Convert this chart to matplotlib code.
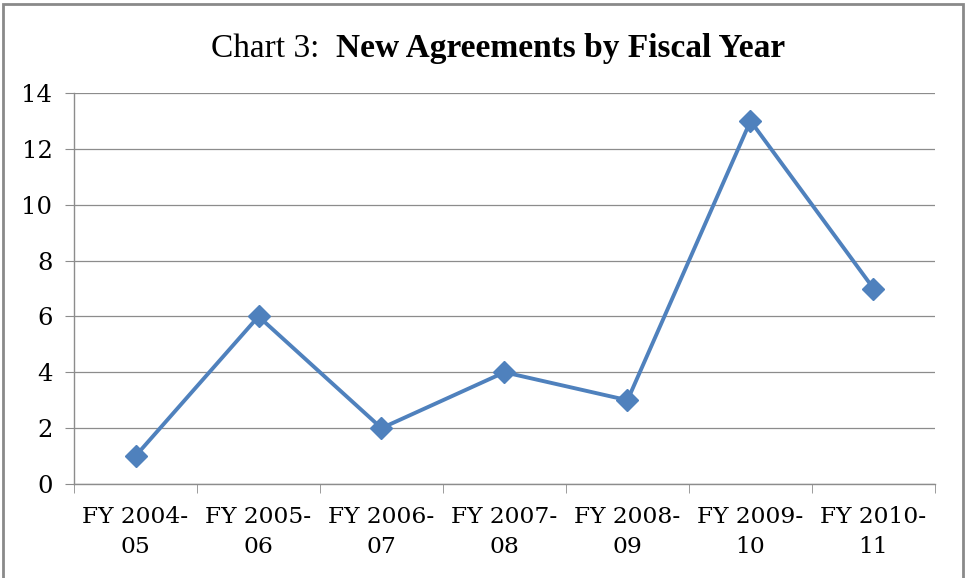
import matplotlib
matplotlib.use("Agg")
import matplotlib.pyplot as plt
from matplotlib.patches import Rectangle
from matplotlib.ticker import MultipleLocator

categories = ["FY 2004-\n05", "FY 2005-\n06", "FY 2006-\n07", "FY 2007-\n08",
              "FY 2008-\n09", "FY 2009-\n10", "FY 2010-\n11"]
agreements = [1, 6, 2, 4, 3, 13, 7]

BLUE = "#4F81BD"
GRID = "#8C8C8C"
plt.rcParams["font.family"] = ["DejaVu Serif"]

fig = plt.figure(figsize=(9.66, 5.78), dpi=100)
ax = fig.add_axes([74 / 966, 1 - 484 / 578, (935 - 74) / 966, (484 - 93) / 578])

x = list(range(len(categories)))
ax.plot(x, agreements, color=BLUE, lw=2.8, marker="D", markersize=11,
        markerfacecolor=BLUE, markeredgecolor=BLUE, zorder=3)

ax.set_xlim(-0.5, len(categories) - 0.5)
ax.set_ylim(0, 14)
ax.yaxis.set_major_locator(MultipleLocator(2))
ax.grid(axis="y", color=GRID, lw=0.9)
ax.set_axisbelow(True)

ax.set_xticks(x)
ax.set_xticklabels(categories, fontsize=16.8, linespacing=1.45)
ax.set_xticks([i - 0.5 for i in range(len(categories) + 1)], minor=True)
ax.tick_params(axis="x", which="major", length=0, pad=16)
ax.tick_params(axis="x", which="minor", length=6.5, color=GRID, direction="out")
ax.tick_params(axis="y", labelsize=17.5, length=6.5, color=GRID, pad=9)

for side in ("top", "right"):
    ax.spines[side].set_visible(False)
for side in ("left", "bottom"):
    ax.spines[side].set_color(GRID)
    ax.spines[side].set_linewidth(1.0)

# two-part title, normal + bold, placed side by side and centred together
tfont = ["Liberation Serif", "DejaVu Serif"]
ty = 1 - 57 / 578
t1 = fig.text(0, ty, "Chart 3:  ", ha="left", va="baseline", fontsize=24, family=tfont)
t2 = fig.text(0, ty, "New Agreements by Fiscal Year", ha="left", va="baseline",
              fontsize=24, fontweight="bold", family=tfont)
fig.canvas.draw()
r = fig.canvas.get_renderer()
w1 = t1.get_window_extent(r).width / fig.bbox.width
w2 = t2.get_window_extent(r).width / fig.bbox.width
x0 = 498 / 966 - (w1 + w2) / 2
t1.set_x(x0)
t2.set_x(x0 + w1)

fig.patches.append(Rectangle((3 / 966, -0.02), 960 / 966, 1.02 - 4 / 578,
                             transform=fig.transFigure, fill=False,
                             edgecolor="#8A8A8A", lw=2))

fig.savefig("out.png", dpi=100)
